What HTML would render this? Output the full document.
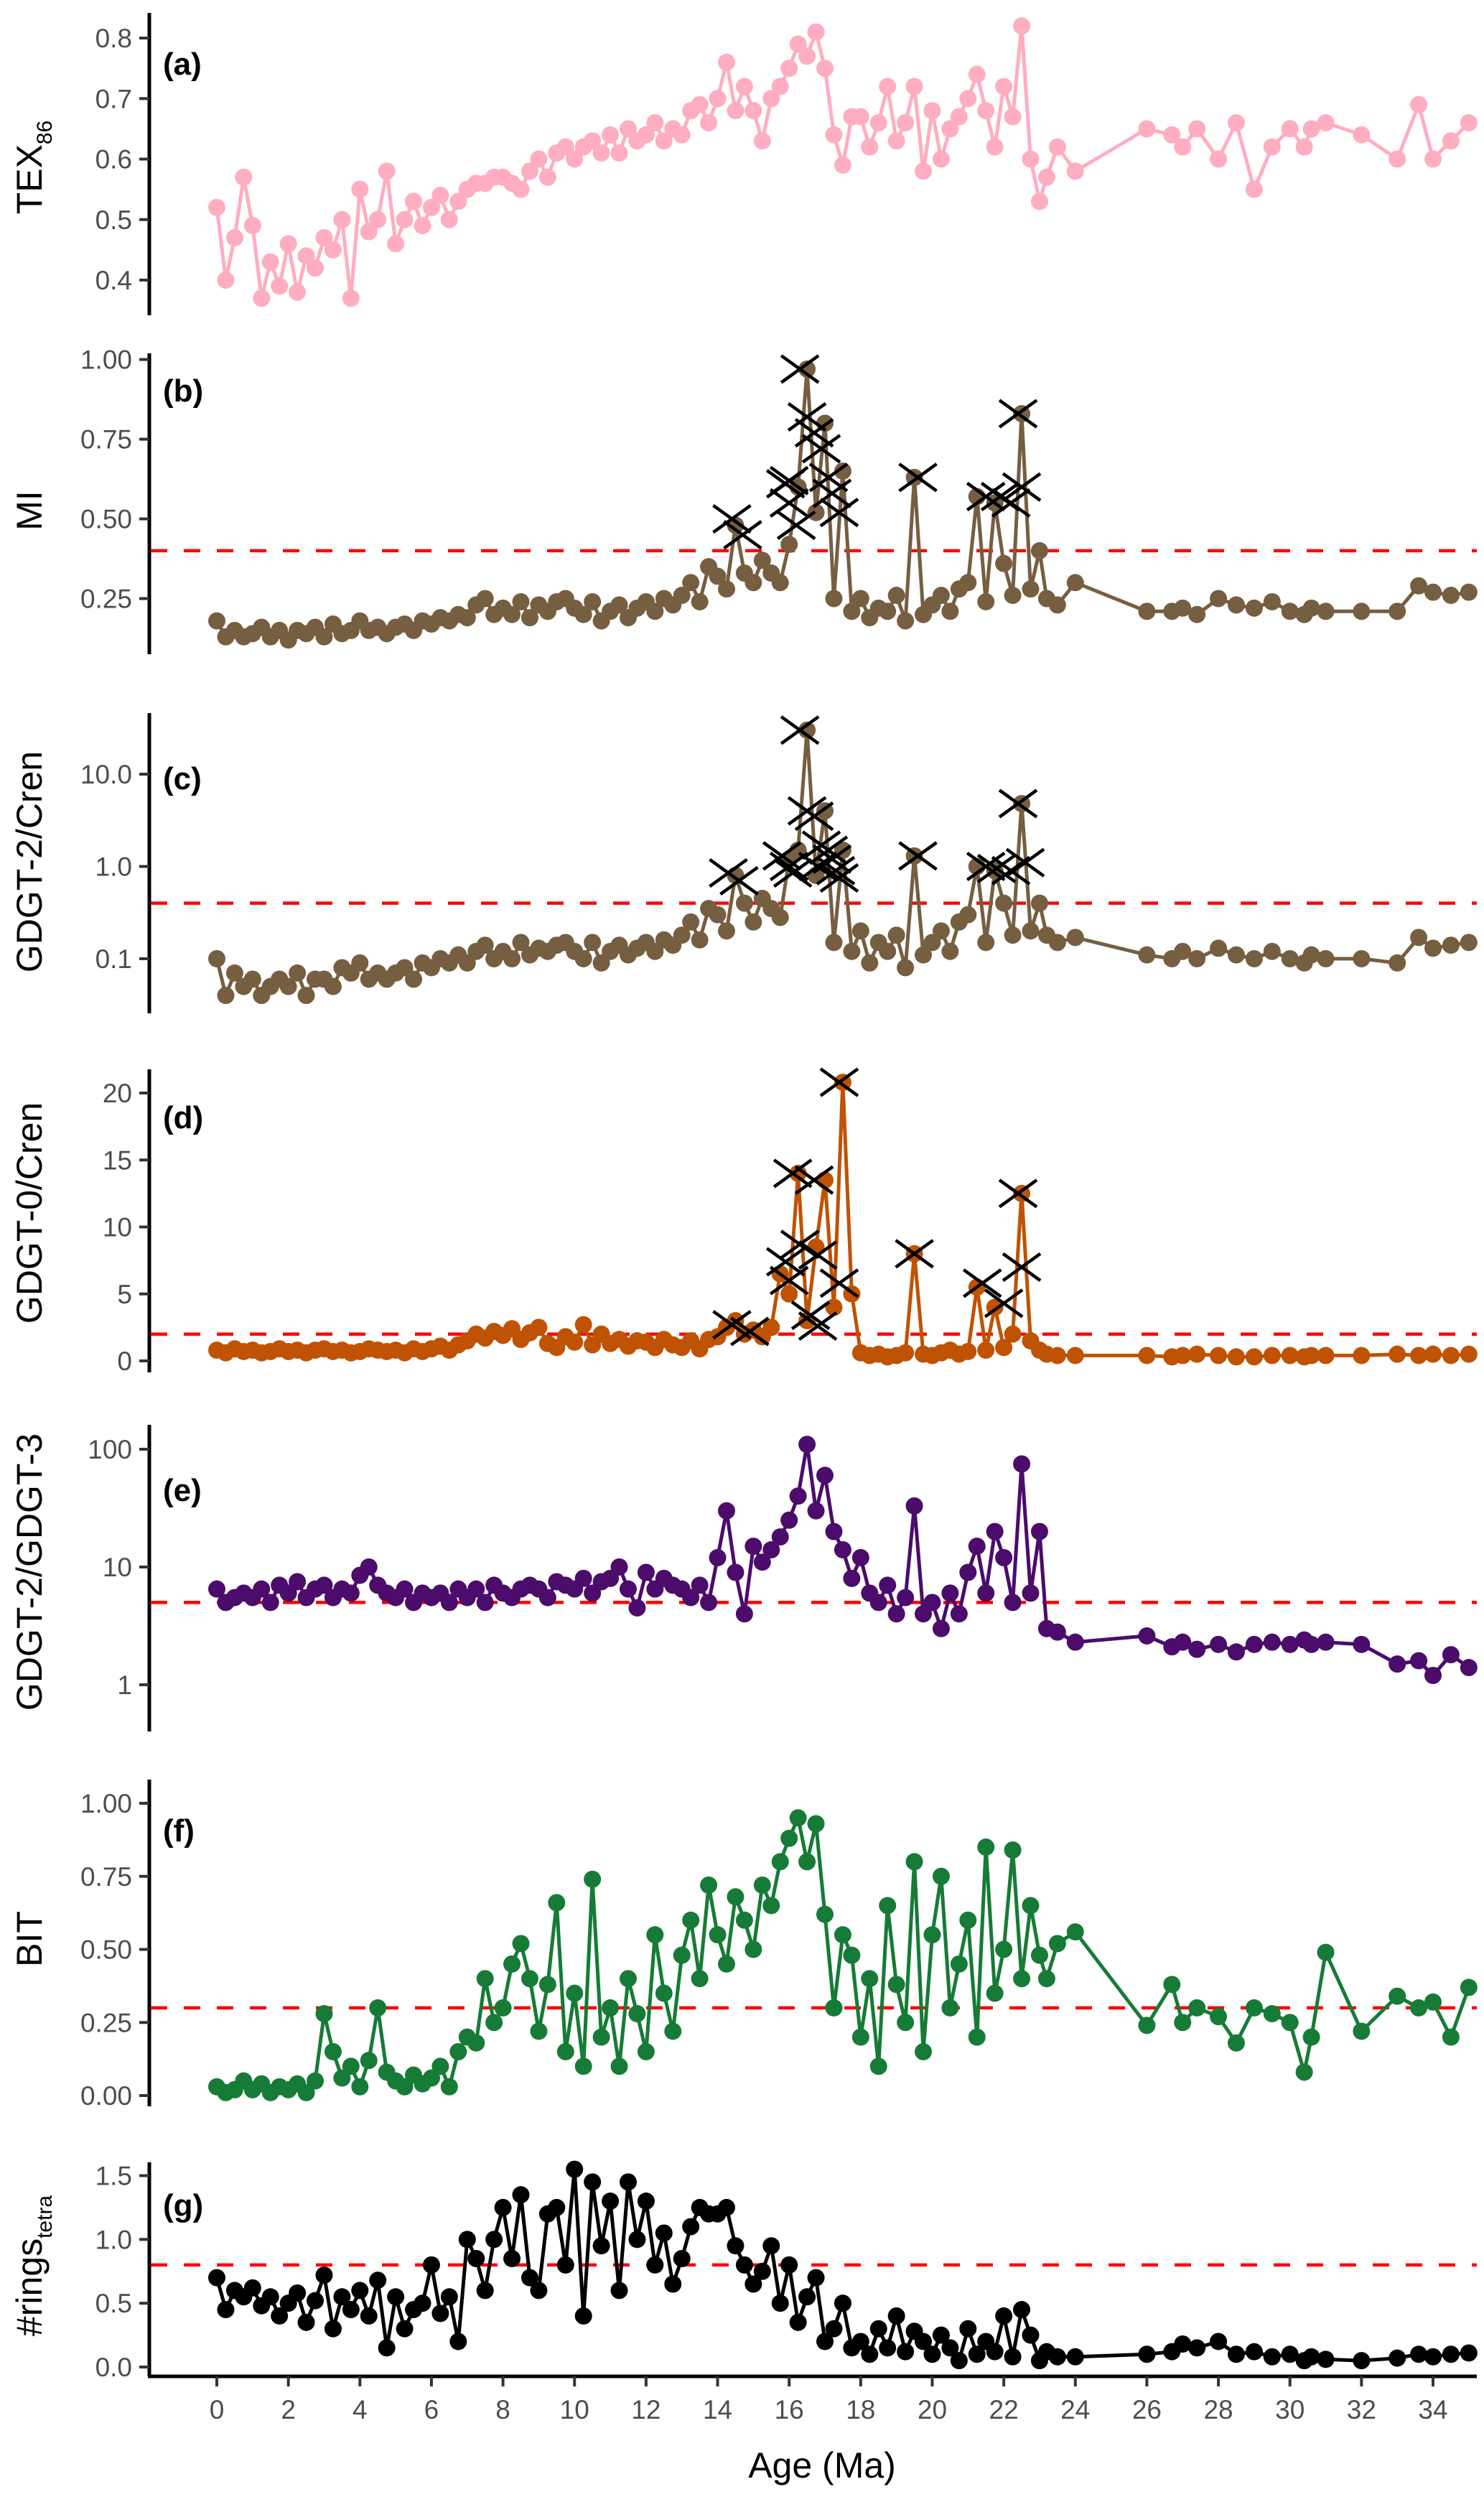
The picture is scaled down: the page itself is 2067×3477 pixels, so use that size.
<!DOCTYPE html>
<html><head><meta charset="utf-8"><style>
html,body{margin:0;padding:0;background:#fff;}
svg{display:block;font-family:"Liberation Sans",sans-serif;}
</style></head><body>
<svg id="chart" width="2067" height="3477" viewBox="0 0 2067 3477" xmlns="http://www.w3.org/2000/svg"></svg>
<script>
const ages=[0,0.25,0.5,0.75,1,1.25,1.5,1.75,2,2.25,2.5,2.75,3,3.25,3.5,3.75,4,4.25,4.5,4.75,5,5.25,5.5,5.75,6,6.25,6.5,6.75,7,7.25,7.5,7.75,8,8.25,8.5,8.75,9,9.25,9.5,9.75,10,10.25,10.5,10.75,11,11.25,11.5,11.75,12,12.25,12.5,12.75,13,13.25,13.5,13.75,14,14.25,14.5,14.75,15,15.25,15.5,15.75,16,16.25,16.5,16.75,17,17.25,17.5,17.75,18,18.25,18.5,18.75,19,19.25,19.5,19.75,20,20.25,20.5,20.75,21,21.25,21.5,21.75,22,22.25,22.5,22.75,
23,23.2,23.5,24,26,26.7,27,27.4,28,28.5,29,29.5,30,30.4,30.6,31,32,33,33.6,34,34.5,35];
const xTicks=[0,2,4,6,8,10,12,14,16,18,20,22,24,26,28,30,32,34];
const tex=[0.52,0.40,0.47,0.57,0.49,0.37,0.43,0.39,0.46,0.38,0.44,0.42,0.47,0.45,0.50,0.37,0.55,0.48,0.50,0.58,0.46,0.50,0.53,0.49,0.52,0.54,0.50,0.53,0.55,0.56,0.56,0.57,0.57,0.56,0.55,0.58,0.60,0.57,0.61,0.62,0.60,0.62,0.63,0.61,0.64,0.61,0.65,0.63,0.64,0.66,0.63,0.65,0.64,0.68,0.69,0.66,0.70,0.76,0.68,0.72,0.68,0.63,0.70,0.72,0.75,0.79,0.77,0.81,0.75,0.64,0.59,0.67,0.67,0.62,0.66,0.72,0.63,0.66,0.72,0.58,0.68,0.60,0.65,0.67,0.70,0.74,0.68,0.62,0.72,0.67,0.82,0.60,
0.53,0.57,0.62,0.58,0.65,0.64,0.62,0.65,0.60,0.66,0.55,0.62,0.65,0.62,0.65,0.66,0.64,0.60,0.69,0.60,0.63,0.66];
const mi=[0.18,0.13,0.15,0.13,0.14,0.16,0.13,0.15,0.12,0.15,0.14,0.16,0.13,0.17,0.14,0.15,0.18,0.15,0.16,0.14,0.16,0.17,0.15,0.18,0.17,0.19,0.18,0.20,0.19,0.23,0.25,0.20,0.22,0.20,0.24,0.19,0.23,0.21,0.24,0.25,0.22,0.20,0.24,0.18,0.21,0.23,0.19,0.22,0.24,0.21,0.25,0.23,0.26,0.30,0.24,0.35,0.32,0.28,0.48,0.33,0.30,0.37,0.33,0.30,0.42,0.60,0.97,0.52,0.80,0.25,0.65,0.21,0.25,0.19,0.22,0.21,0.26,0.18,0.63,0.20,0.23,0.26,0.21,0.28,0.30,0.57,0.24,0.55,0.36,0.26,0.83,0.28,
0.40,0.25,0.23,0.30,0.21,0.21,0.22,0.20,0.25,0.23,0.22,0.24,0.21,0.20,0.22,0.21,0.21,0.21,0.29,0.27,0.26,0.27];
const miXAge=[14.4,14.7,15.9,16.0,16.3,16.5,16.7,16.9,17.1,17.2,17.4,16.2,16.0,19.6,21.5,21.9,22.4,22.5,22.2];
const miXVal=[0.50,0.45,0.61,0.55,0.97,0.82,0.77,0.72,0.63,0.58,0.52,0.48,0.62,0.63,0.57,0.57,0.83,0.60,0.55];
const g2c=[0.1,0.04,0.07,0.05,0.06,0.04,0.05,0.06,0.05,0.07,0.04,0.06,0.06,0.05,0.08,0.07,0.09,0.06,0.07,0.06,0.07,0.08,0.06,0.09,0.08,0.10,0.09,0.11,0.09,0.12,0.14,0.10,0.12,0.10,0.15,0.11,0.13,0.12,0.14,0.15,0.12,0.10,0.15,0.09,0.12,0.14,0.11,0.13,0.15,0.12,0.16,0.14,0.18,0.25,0.16,0.35,0.30,0.20,0.80,0.40,0.25,0.45,0.35,0.28,1.2,1.5,30,0.8,4.0,0.15,1.5,0.12,0.20,0.09,0.15,0.12,0.18,0.08,1.3,0.11,0.15,0.20,0.12,0.25,0.30,1.0,0.15,0.9,0.40,0.18,4.8,0.20,
0.40,0.18,0.15,0.17,0.11,0.10,0.12,0.10,0.13,0.11,0.10,0.12,0.10,0.09,0.11,0.10,0.10,0.09,0.17,0.13,0.14,0.15];
const g2cXAge=[14.3,14.6,15.8,16.0,16.3,16.5,16.7,16.9,17.1,17.2,17.3,17.4,16.1,16.8,19.6,21.5,21.8,22.4,22.6,22.2];
const g2cXVal=[0.85,0.70,1.3,1.0,30,4.0,3.5,1.7,1.5,1.2,0.9,0.75,0.85,1.0,1.3,1.0,0.95,4.8,1.1,0.9];
const g0c=[0.8,0.6,0.9,0.7,0.8,0.6,0.7,0.9,0.7,0.8,0.6,0.8,0.9,0.7,0.8,0.6,0.7,0.9,0.8,0.7,0.8,0.6,0.9,0.7,0.9,1.1,0.8,1.2,1.5,2.0,1.7,2.2,1.9,2.4,1.6,2.1,2.5,1.3,1.0,1.8,1.4,2.7,1.2,2.0,1.3,1.6,1.1,1.5,1.4,1.0,1.6,1.2,1.0,1.5,0.9,1.6,1.8,2.5,3.0,2.0,2.3,1.8,2.5,6.5,5.0,14.0,3.0,8.5,13.5,4.0,20.8,5.0,0.6,0.4,0.5,0.3,0.4,0.6,8.0,0.5,0.4,0.6,0.8,0.5,0.7,5.5,0.8,4.0,1.0,2.0,12.5,1.5,
0.8,0.5,0.4,0.4,0.4,0.3,0.4,0.5,0.4,0.3,0.3,0.4,0.4,0.3,0.4,0.4,0.4,0.5,0.4,0.5,0.4,0.5];
const g0cXAge=[17.4,16.1,16.7,19.5,22.4,22.5,21.4,22.0,16.3,15.9,16.8,17.4,16.0,16.6,16.8,14.4,14.9];
const g0cXVal=[20.8,14.0,13.5,8.0,12.5,7.0,5.8,4.3,8.7,7.4,7.9,5.8,6.0,3.4,2.6,2.7,2.2];
const g2g3=[6.5,5.0,5.5,6.0,5.5,6.5,5.0,7.0,6.0,7.5,5.5,6.5,7.0,5.5,6.5,6.0,8.5,10.0,7.0,6.0,5.5,6.5,5.0,6.0,5.5,6.0,5.0,6.5,5.5,6.5,5.0,7.0,6.0,5.5,6.5,7.0,6.5,5.5,7.5,7.0,6.5,8.0,6.0,7.5,8.0,10.0,6.5,4.5,9.0,6.5,8.0,7.0,6.5,5.5,7.0,5.0,12.0,30.0,9.0,4.0,15.0,11.0,14.0,18.0,25.0,40.0,110.0,30.0,60.0,20.0,14.0,8.0,12.0,6.0,5.0,7.0,4.0,5.5,33.0,4.0,5.0,3.0,6.0,4.0,9.0,15.0,6.0,20.0,12.0,5.0,75.0,6.0,
20,3.0,2.8,2.3,2.6,2.1,2.3,2.0,2.2,1.9,2.2,2.3,2.2,2.4,2.2,2.3,2.2,1.5,1.6,1.2,1.8,1.4];
const bit=[0.03,0.01,0.02,0.05,0.02,0.04,0.01,0.03,0.02,0.04,0.01,0.05,0.28,0.15,0.06,0.10,0.03,0.12,0.30,0.08,0.05,0.03,0.07,0.04,0.06,0.10,0.03,0.15,0.20,0.18,0.40,0.25,0.30,0.45,0.52,0.40,0.22,0.38,0.66,0.15,0.35,0.10,0.74,0.20,0.30,0.10,0.40,0.28,0.15,0.55,0.35,0.22,0.48,0.60,0.40,0.72,0.55,0.45,0.68,0.60,0.50,0.72,0.65,0.80,0.88,0.95,0.80,0.93,0.62,0.30,0.55,0.48,0.20,0.40,0.10,0.65,0.38,0.25,0.80,0.15,0.55,0.75,0.30,0.45,0.60,0.20,0.85,0.35,0.50,0.84,0.40,0.65,
0.48,0.40,0.52,0.56,0.24,0.38,0.25,0.30,0.27,0.18,0.30,0.28,0.25,0.08,0.20,0.49,0.22,0.34,0.30,0.32,0.20,0.37];
const rings=[0.70,0.45,0.60,0.55,0.62,0.48,0.55,0.40,0.50,0.58,0.35,0.52,0.72,0.30,0.55,0.45,0.60,0.40,0.68,0.15,0.55,0.30,0.45,0.50,0.80,0.42,0.55,0.20,1.00,0.85,0.60,1.00,1.25,0.85,1.35,0.70,0.60,1.20,1.25,0.80,1.55,0.40,1.45,0.95,1.30,0.60,1.45,1.00,1.30,0.80,1.05,0.65,0.85,1.10,1.25,1.20,1.20,1.25,0.95,0.80,0.65,0.75,0.95,0.50,0.80,0.35,0.55,0.70,0.20,0.30,0.50,0.15,0.20,0.10,0.30,0.15,0.40,0.12,0.28,0.20,0.10,0.25,0.15,0.05,0.30,0.10,0.20,0.12,0.40,0.08,0.45,0.25,
0.05,0.12,0.08,0.08,0.10,0.12,0.18,0.15,0.20,0.10,0.12,0.08,0.10,0.05,0.08,0.06,0.05,0.07,0.10,0.08,0.10,0.11];

const NS="http://www.w3.org/2000/svg";
const svg=document.getElementById('chart');
function mk(tag,attrs,parent){const e=document.createElementNS(NS,tag);for(const k in attrs)e.setAttribute(k,attrs[k]);(parent||svg).appendChild(e);return e;}
const AX=208, XR=2057;
function xs(a){return 302+a*(1996-302)/34;}
function linScale(v0,y0,v1,y1){return v=>y0+(v-v0)*(y1-y0)/(v1-v0);}
function logScale(v0,y0,v1,y1){return v=>y0+(Math.log10(v)-Math.log10(v0))*(y1-y0)/(Math.log10(v1)-Math.log10(v0));}

function panel(o){
  const g=mk('g',{});
  
  
  const ax=mk('line',{x1:AX,y1:o.top,x2:AX,y2:o.bot,stroke:'#000','stroke-width':5},g);
  
  
  o.ticks.forEach((t,i)=>{
    const y=o.sc(t);
    const tk=mk('line',{x1:AX-14,y1:y,x2:AX,y2:y,stroke:'#333','stroke-width':4},g);
    
    
    const tx=mk('text',{x:AX-24,y:y+13,'text-anchor':'end','font-size':37,fill:'#4d4d4d'},g);
    tx.textContent=o.tickLabels[i];
    
    
  });
  if(o.ref!==undefined){
    const ry=o.sc(o.ref);
    const rl=mk('line',{x1:AX+2,y1:ry,x2:XR,y2:ry,stroke:'#ff0000','stroke-width':4.5,'stroke-dasharray':'23 23'},g);
    
    
  }
  let d='';
  o.vals.forEach((v,i)=>{d+=(i?'L':'M')+xs(ages[i]).toFixed(1)+' '+o.sc(v).toFixed(1);});
  const p=mk('path',{d:d,fill:'none',stroke:o.color,'stroke-width':5,'stroke-linejoin':'round'},g);
  
  
  o.vals.forEach((v,i)=>{
    const c=mk('circle',{cx:xs(ages[i]),cy:o.sc(v),r:12,fill:o.color},g);
    
    
  });
  if(o.xA){
    o.xA.forEach((a,i)=>{
      const cx=xs(a), cy=o.sc(o.xV[i]), s=26;
      const cr=mk('path',{d:`M${cx-s} ${cy-s*0.72}L${cx+s} ${cy+s*0.72}M${cx-s} ${cy+s*0.72}L${cx+s} ${cy-s*0.72}`,stroke:'#000','stroke-width':4.5,fill:'none'},g);
      
      
    });
  }
  const lb=mk('text',{x:227,y:o.labelY+15,'font-size':44,'font-weight':'bold',fill:'#000'},g);
  lb.textContent='('+o.id+')';
  
  
  const yt=mk('text',{x:0,y:0,'font-size':50,fill:'#000','text-anchor':'middle',transform:`translate(58 ${o.titleY}) rotate(-90)`},g);
  yt.innerHTML=o.title;
  
  
}

panel({id:'a',top:18,bot:439,sc:linScale(0.4,390,0.8,53),ticks:[0.4,0.5,0.6,0.7,0.8],tickLabels:['0.4','0.5','0.6','0.7','0.8'],vals:tex,color:'#ffadc0',labelY:89,titleY:233,title:'TEX<tspan font-size="30" dy="14">86</tspan>'});
panel({id:'b',top:492,bot:911,sc:linScale(0.25,833.5,1,500.6),ticks:[0.25,0.5,0.75,1],tickLabels:['0.25','0.50','0.75','1.00'],ref:0.4,vals:mi,color:'#765e41',xA:miXAge,xV:miXVal,labelY:544,titleY:711,title:'MI'});
panel({id:'c',top:993,bot:1411,sc:logScale(0.1,1335,10,1078),ticks:[0.1,1,10],tickLabels:['0.1','1.0','10.0'],ref:0.4,vals:g2c,color:'#765e41',xA:g2cXAge,xV:g2cXVal,labelY:1084,titleY:1200,title:'GDGT-2/Cren'});
panel({id:'d',top:1489,bot:1911,sc:linScale(0,1895,20,1522),ticks:[0,5,10,15,20],tickLabels:['0','5','10','15','20'],ref:2,vals:g0c,color:'#c05203',xA:g0cXAge,xV:g0cXVal,labelY:1556,titleY:1689,title:'GDGT-0/Cren'});
panel({id:'e',top:1984,bot:2411,sc:logScale(1,2346,100,2018),ticks:[1,10,100],tickLabels:['1','10','100'],ref:5,vals:g2g3,color:'#4b0c6b',labelY:2075,titleY:2189,title:'GDGT-2/GDGT-3'});
panel({id:'f',top:2478,bot:2933,sc:linScale(0,2918,1,2511),ticks:[0,0.25,0.5,0.75,1],tickLabels:['0.00','0.25','0.50','0.75','1.00'],ref:0.3,vals:bit,color:'#167b36',labelY:2549,titleY:2700,title:'BIT'});
panel({id:'g',top:3011,bot:3309,sc:linScale(0,3296,1.5,3029.5),ticks:[0,0.5,1,1.5],tickLabels:['0.0','0.5','1.0','1.5'],ref:0.8,vals:rings,color:'#000000',labelY:3071,titleY:3155,title:'#rings<tspan font-size="30" dy="14">tetra</tspan>'});

const xa=mk('line',{x1:AX-2,y1:3309,x2:XR,y2:3309,stroke:'#000','stroke-width':5});


xTicks.forEach(t=>{
  const tk=mk('line',{x1:xs(t),y1:3309,x2:xs(t),y2:3323,stroke:'#333','stroke-width':4});
  
  
  const tx=mk('text',{x:xs(t),y:3368,'text-anchor':'middle','font-size':37,fill:'#4d4d4d'});
  tx.textContent=String(t);
  
  
});
const xt=mk('text',{x:1145,y:3450,'text-anchor':'middle','font-size':50,fill:'#000'});
xt.textContent='Age (Ma)';


</script>
</body></html>
